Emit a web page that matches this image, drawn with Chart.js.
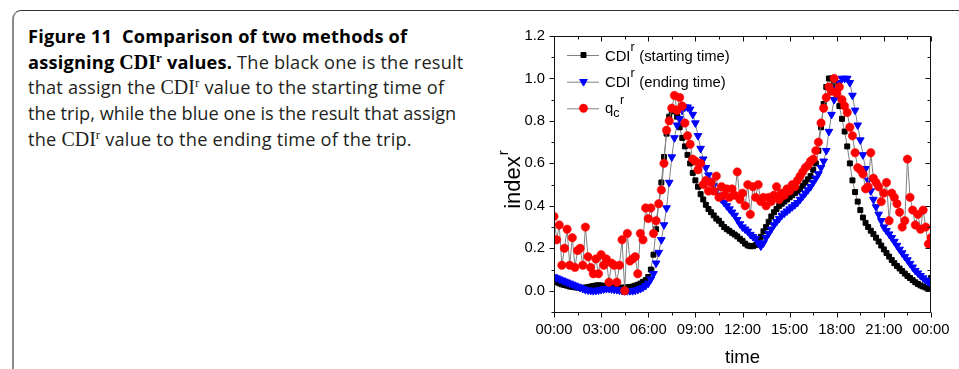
<!DOCTYPE html>
<html><head><meta charset="utf-8">
<script src="https://cdn.jsdelivr.net/npm/chart.js@4.4.1/dist/chart.umd.min.js"></script>
<style>
html,body{margin:0;padding:0;background:#fff;width:959px;height:369px;overflow:hidden;}
#frame{position:absolute;left:12px;top:10px;width:980px;height:420px;border-top:1px solid #333;border-left:2px solid #8a8a8a;border-top-left-radius:9px;}
#cap{position:absolute;left:28px;top:0;font-family:'Open Sans',sans-serif;font-size:18.2px;letter-spacing:0.2px;color:#231f20;}
.ln{position:absolute;left:0;white-space:nowrap;line-height:20px;}
.cdi{font-family:'Liberation Serif','DejaVu Serif',serif;font-size:20px;letter-spacing:0;}
.sup{position:relative;top:-7px;font-size:13px;font-family:'Liberation Serif',serif;}
b{font-weight:700;color:#000;}
#wrap{position:absolute;left:480px;top:0;width:479px;height:369px;}
</style></head>
<body>
<div id="frame"></div>
<div id="cap">
<div class="ln" style="top:26px"><b>Figure 11&nbsp; Comparison of two methods of</b></div>
<div class="ln" style="top:51.5px"><b>assigning <span class="cdi">CDI</span><span class="sup">r</span> values.</b> The black one is the result</div>
<div class="ln" style="top:77px">that assign the <span class="cdi">CDI</span><span class="sup">r</span> value to the starting time of</div>
<div class="ln" style="top:103px;letter-spacing:0">the trip, while the blue one is the result that assign</div>
<div class="ln" style="top:128.5px">the <span class="cdi">CDI</span><span class="sup">r</span> value to the ending time of the trip.</div>
</div>
<div id="wrap"><canvas id="c" width="479" height="369"></canvas></div>
<script>
// 10-minute sampling grid (hours of the day)
const timeHours = Array.from({length:145},(_,i)=>i/6);

const cdiStart = [
0.045,0.04,0.035,0.03,0.027,0.024,0.02,0.018,0.016,0.015,0.014,0.014,
0.015,0.017,0.02,0.022,0.025,0.026,0.025,0.023,0.02,0.018,0.016,0.015,
0.014,0.014,0.015,0.015,0.016,0.018,0.02,0.024,0.028,0.034,0.042,0.05,
0.065,0.10,0.17,0.29,0.41,0.51,0.63,0.74,0.82,0.845,0.85,0.82,
0.77,0.72,0.68,0.64,0.60,0.555,0.52,0.49,0.455,0.43,0.405,0.385,
0.37,0.355,0.34,0.33,0.315,0.30,0.29,0.282,0.273,0.265,0.256,0.245,
0.235,0.222,0.213,0.21,0.21,0.215,0.232,0.254,0.28,0.30,0.325,0.35,
0.37,0.385,0.40,0.41,0.42,0.43,0.44,0.45,0.46,0.47,0.48,0.495,
0.51,0.525,0.54,0.57,0.60,0.66,0.77,0.88,0.96,1.0,1.0,0.975,
0.92,0.87,0.81,0.75,0.68,0.60,0.52,0.465,0.42,0.38,0.345,0.32,
0.30,0.283,0.267,0.25,0.232,0.213,0.195,0.178,0.161,0.145,0.13,0.117,
0.105,0.093,0.081,0.07,0.06,0.05,0.04,0.032,0.025,0.02,0.015,0.01,
0.06];

const cdiEnd = [
0.065,0.06,0.055,0.05,0.045,0.04,0.035,0.03,0.025,0.02,0.015,0.01,
0.005,0.003,0.001,0.0,0.001,0.003,0.005,0.008,0.01,0.01,0.008,0.006,
0.005,0.003,0.001,0.0,0.0,0.0,0.0,0.002,0.005,0.01,0.016,0.024,
0.035,0.055,0.08,0.13,0.18,0.24,0.31,0.39,0.51,0.63,0.72,0.78,
0.81,0.85,0.865,0.865,0.855,0.83,0.79,0.73,0.67,0.62,0.58,0.545,
0.52,0.495,0.47,0.45,0.43,0.415,0.40,0.385,0.37,0.355,0.335,0.315,
0.30,0.29,0.28,0.265,0.255,0.245,0.225,0.21,0.225,0.25,0.27,0.29,
0.31,0.325,0.34,0.355,0.365,0.375,0.385,0.395,0.405,0.415,0.43,0.445,
0.46,0.475,0.49,0.51,0.53,0.55,0.58,0.61,0.66,0.75,0.83,0.90,
0.95,0.98,1.0,1.0,1.0,0.98,0.92,0.85,0.78,0.71,0.64,0.575,
0.52,0.47,0.43,0.395,0.36,0.33,0.30,0.283,0.267,0.25,0.232,0.213,
0.195,0.178,0.161,0.145,0.128,0.111,0.095,0.083,0.071,0.06,0.05,0.042,
0.035];

const qcr = [
0.35,0.24,0.31,0.12,0.20,0.29,0.12,0.25,0.11,0.19,0.20,0.12,
0.30,0.16,0.11,0.08,0.15,0.08,0.17,0.12,0.15,0.04,0.13,0.12,
0.04,0.12,0.24,0.0,0.27,0.14,0.15,0.16,0.08,0.27,0.24,0.39,
0.34,0.39,0.27,0.33,0.41,0.475,0.60,0.756,0.80,0.86,0.92,0.85,
0.91,0.87,0.79,0.73,0.69,0.62,0.61,0.57,0.60,0.50,0.52,0.47,
0.51,0.47,0.54,0.44,0.49,0.45,0.48,0.44,0.48,0.45,0.56,0.43,
0.46,0.40,0.50,0.36,0.49,0.44,0.50,0.42,0.44,0.40,0.44,0.42,
0.45,0.49,0.43,0.46,0.45,0.48,0.47,0.50,0.49,0.52,0.54,0.56,
0.58,0.59,0.61,0.62,0.66,0.70,0.79,0.86,0.91,0.96,0.94,1.0,
0.93,0.96,0.90,0.87,0.84,0.77,0.73,0.65,0.58,0.57,0.55,0.48,
0.49,0.65,0.53,0.51,0.49,0.42,0.46,0.51,0.33,0.46,0.44,0.41,
0.37,0.30,0.33,0.62,0.44,0.38,0.31,0.36,0.29,0.38,0.30,0.22,
0.25];

const xTickHours = [0,3,6,9,12,15,18,21,24];
const xTickLabels = ['00:00','03:00','06:00','09:00','12:00','15:00','18:00','21:00','00:00'];
const xMinorHours = [1.5,4.5,7.5,10.5,13.5,16.5,19.5,22.5];
const yTickValues = [0,0.2,0.4,0.6,0.8,1.0,1.2];
const yTickLabels = ['0.0','0.2','0.4','0.6','0.8','1.0','1.2'];
const yMinorValues = [-0.1,0.1,0.3,0.5,0.7,0.9,1.1];

const toXY = arr => arr.map((v,i)=>({x:timeHours[i], y:v}));
const FONT = "'Liberation Sans', Arial, sans-serif";

const decor = {
  id:'decor',
  afterDraw(chart){
    const {ctx, chartArea:a, scales:{x,y}} = chart;
    ctx.save();
    ctx.strokeStyle = '#111'; ctx.lineWidth = 1;
    const L = a.left + 0.5, R = a.right - 0.5, T = a.top + 0.5, B = a.bottom + 0.5;
    ctx.beginPath(); ctx.rect(L, T, R - L, B - T); ctx.stroke();
    ctx.beginPath();
    const hx = (v, len) => { const p = Math.round(x.getPixelForValue(v)) + 0.5;
      ctx.moveTo(p, B); ctx.lineTo(p, B + len); ctx.moveTo(p, T); ctx.lineTo(p, T + len); };
    const vy = (v, len) => { const p = Math.round(y.getPixelForValue(v)) + 0.5;
      ctx.moveTo(L, p); ctx.lineTo(L - len, p); ctx.moveTo(R, p); ctx.lineTo(R - len, p); };
    xTickHours.forEach(v => hx(v, 5));
    xMinorHours.forEach(v => hx(v, 3));
    yTickValues.forEach(v => vy(v, 5));
    yMinorValues.forEach(v => vy(v, 3));
    ctx.stroke();

    // axis titles
    ctx.fillStyle = '#000';
    ctx.textBaseline = 'alphabetic';
    ctx.font = "18.5px " + FONT;
    ctx.textAlign = 'center';
    ctx.fillText('time', (a.left + a.right) / 2, 363);
    ctx.textAlign = 'left';
    ctx.save();
    ctx.font = "22px " + FONT;
    const w1 = ctx.measureText('index').width;
    ctx.font = "15px " + FONT;
    const w2 = ctx.measureText('r').width;
    ctx.translate(a.left - 34, 180);
    ctx.rotate(-Math.PI / 2);
    const sx = -(w1 + w2) / 2;
    ctx.font = "22px " + FONT;
    ctx.fillText('index', sx, 0);
    ctx.font = "15px " + FONT;
    ctx.fillText('r', sx + w1 + 1, -12);
    ctx.restore();

    // legend
    const x0 = a.left + 13, x1 = a.left + 45, xm = a.left + 29.5, xt = a.left + 51;
    const rows = [
      {cy:55, ds:0, parts:[['CDI',0,14.8],['r',-10,12.5],[' (starting time)',0,14.8]], base:5.7},
      {cy:81.7, ds:1, parts:[['CDI',0,14.8],['r',-10,12.5],[' (ending time)',0,14.8]], base:5.7},
      {cy:108.3, ds:2, parts:[['q',0,14.8],['c',4,12.5],['r',-9,12.5]], base:4.5}
    ];
    rows.forEach(r => {
      const d = chart.data.datasets[r.ds];
      ctx.strokeStyle = '#808080'; ctx.lineWidth = 1;
      ctx.beginPath(); ctx.moveTo(x0, r.cy + 0.5); ctx.lineTo(x1, r.cy + 0.5); ctx.stroke();
      ctx.fillStyle = d.pointBackgroundColor; ctx.strokeStyle = d.pointBorderColor;
      ctx.lineWidth = d.pointBorderWidth;
      Chart.helpers.drawPoint(ctx, {pointStyle:d.pointStyle, rotation:d.pointRotation||0,
        radius:d.pointRadius, borderWidth:d.pointBorderWidth}, xm, r.cy);
      ctx.fillStyle = '#000';
      let cx = xt;
      const by = r.cy + r.base;
      r.parts.forEach(([t, off, sz]) => {
        ctx.font = sz + "px " + FONT;
        ctx.fillText(t, cx, by + off);
        cx += ctx.measureText(t).width + (sz < 14 ? 0.5 : 0);
      });
    });
    ctx.restore();
  }
};

new Chart(document.getElementById('c'), {
  type: 'line',
  data: {
    datasets: [
      {label:'CDIr (starting time)', data:toXY(cdiStart), borderColor:'#808080', borderWidth:1,
       pointStyle:'rect', pointRadius:3.5, pointBackgroundColor:'#000', pointBorderColor:'#000',
       pointBorderWidth:1, tension:0, order:3},
      {label:'CDIr (ending time)', data:toXY(cdiEnd), borderColor:'#808080', borderWidth:1,
       pointStyle:'triangle', pointRotation:180, pointRadius:4.4, pointBackgroundColor:'#0000ff',
       pointBorderColor:'#0000ff', pointBorderWidth:1, tension:0, order:2},
      {label:'qcr', data:toXY(qcr), borderColor:'#808080', borderWidth:1,
       pointStyle:'circle', pointRadius:4.2, pointBackgroundColor:'#ff0000',
       pointBorderColor:'#ff0000', pointBorderWidth:0.5, tension:0, order:1}
    ]
  },
  options: {
    responsive:false, animation:false, devicePixelRatio:1,
    layout:{padding:{left:0, right:28, top:36, bottom:0}},
    plugins:{legend:{display:false}, tooltip:{enabled:false}},
    scales:{
      x:{type:'linear', min:0, max:24,
        afterBuildTicks:s=>{ s.ticks = xTickHours.map(v=>({value:v})); },
        afterFit:s=>{ s.height = 57; },
        ticks:{callback:(v,i)=>xTickLabels[i], color:'#000', font:{family:FONT, size:14.8},
          padding:9, maxRotation:0, autoSkip:false},
        grid:{display:false, drawTicks:false}, border:{display:false}},
      y:{type:'linear', min:-0.1, max:1.2,
        afterBuildTicks:s=>{ s.ticks = yTickValues.map(v=>({value:v})); },
        afterFit:s=>{ s.width = 74; },
        ticks:{callback:(v,i)=>yTickLabels[i], color:'#000', font:{family:FONT, size:14.8},
          padding:9, autoSkip:false},
        grid:{display:false, drawTicks:false}, border:{display:false}}
    }
  },
  plugins:[decor]
});
</script>
</body></html>
